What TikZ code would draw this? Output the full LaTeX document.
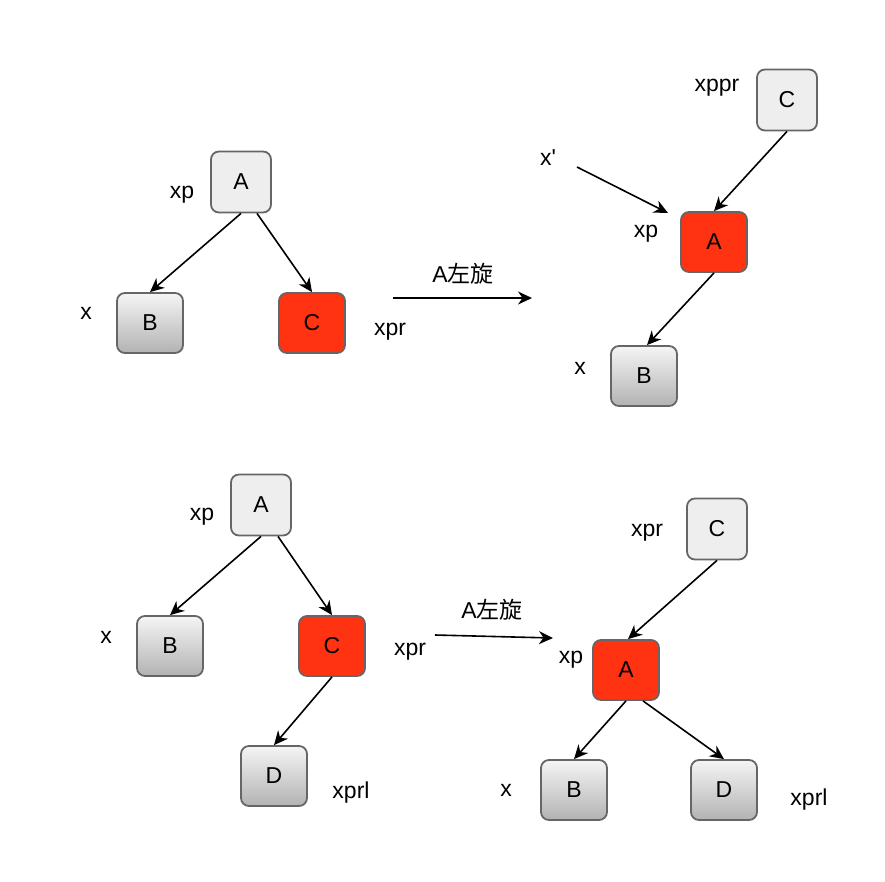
\documentclass[tikz,border=0pt]{standalone}
\usepackage{fontspec}
\setmainfont{Liberation Sans}
\newfontfamily\cjk{Noto Sans CJK SC}
\usetikzlibrary{arrows.meta}
\definecolor{boxgray}{HTML}{EEEEEE}
\definecolor{boxline}{HTML}{666666}
\definecolor{redfill}{HTML}{FF3311}
\tikzset{
  treenode/.style={draw=boxline,line width=1.8pt,rounded corners=8pt,minimum width=66pt,minimum height=60pt,inner sep=0pt,font=\fontsize{23}{27}\selectfont},
  plainnode/.style={treenode,fill=boxgray,minimum width=60pt,minimum height=61pt},
  rednode/.style={treenode,fill=redfill},
  leafnode/.style={treenode,top color=black!4,bottom color=black!30},
  tag/.style={font=\fontsize{23}{27}\selectfont,inner sep=0pt},
  edge/.style={-{Stealth[length=14pt,width=13pt,inset=4.5pt]},line width=1.6pt},
}
\begin{document}
\begin{tikzpicture}[x=1pt,y=-1pt]
\useasboundingbox(0,0)rectangle(885,881);
% before and after, first case
\node[plainnode](A1)at(241,182){A};
\node[leafnode](B1)at(150,323){B};
\node[rednode](C1)at(312,323){C};
\node[plainnode](C2)at(787,100){C};
\node[rednode](A2)at(714,242){A};
\node[leafnode](B2)at(644,376){B};
% before and after, second case
\node[plainnode](A3)at(261,505){A};
\node[leafnode](B3)at(170,646){B};
\node[rednode](C3)at(332,646){C};
\node[leafnode](D3)at(274,776){D};
\node[plainnode](C4)at(717,529){C};
\node[rednode](A4)at(626,670){A};
\node[leafnode](B4)at(574,790){B};
\node[leafnode](D4)at(724,790){D};
\foreach \n/\t/\x/\y in {t1/xp/182/195,t2/x/86/313,t3/xpr/390/332,t4/xppr/717/88,t5/x\textquotesingle/548/158,t6/xp/646/234,t7/x/580/368,
  t8/xp/202/517,t9/x/106/637,t10/xpr/410/652,t11/xprl/351/793,t12/xpr/647/533,t13/xp/571/660,t14/x/506/790,t15/xprl/809/800}
  \node[tag](\n)at(\x,\y){\t};
\draw[edge](A1.south)--(B1.north);
\draw[edge]([xshift=16pt]A1.south)--(C1.north);
\draw[edge](C2.south)--(A2.north);
\draw[edge](A2.south)--([xshift=3pt]B2.north);
\coordinate(p1)at(577,167);
\coordinate(p2)at(668,213);
\draw[edge](p1)--(p2);
\draw[edge](A3.south)--(B3.north);
\draw[edge]([xshift=17pt]A3.south)--(C3.north);
\draw[edge](C3.south)--(D3.north);
\draw[edge](C4.south)--([xshift=2pt]A4.north);
\draw[edge](A4.south)--(B4.north);
\draw[edge]([xshift=17pt]A4.south)--(D4.north);
% rotation arrows
\coordinate(r1)at(393,298);
\coordinate(r2)at(532,298);
\draw[edge](r1)--(r2);
\node[tag](rot1)at(463,274){A{\cjk 左旋}};
\coordinate(r3)at(435,635);
\coordinate(r4)at(553,638);
\draw[edge](r3)--(r4);
\node[tag](rot2)at(492,610){A{\cjk 左旋}};
\end{tikzpicture}
\end{document}
